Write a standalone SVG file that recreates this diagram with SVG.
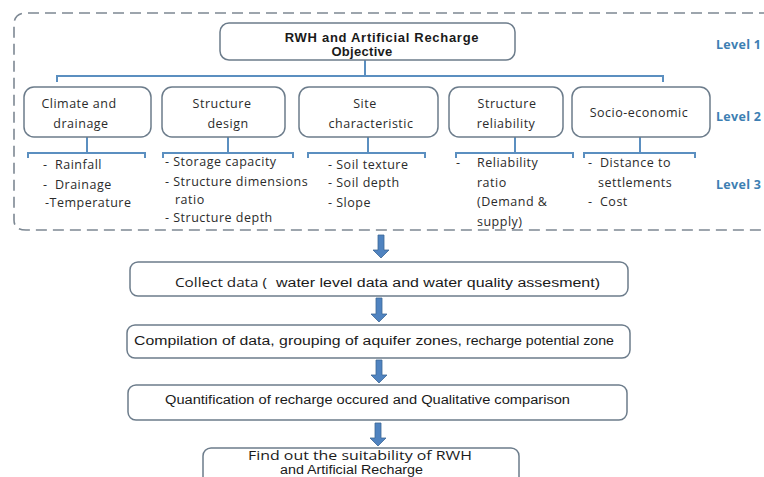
<svg xmlns="http://www.w3.org/2000/svg" width="764" height="477" viewBox="0 0 764 477">
<defs>
<style>
.bg{fill:#ffffff}
.frame{fill:none;stroke:#7d8893;stroke-width:1.6;stroke-dasharray:11 6}
.box{fill:#ffffff;stroke:#6c7c8b;stroke-width:1.5}
.conn{fill:none;stroke:#5b8fc0;stroke-width:2}
.arrow{fill:#4f83c0;stroke:#3c6796;stroke-width:0.8}
.t2{font-family:"Open Sans","DejaVu Sans",sans-serif;font-size:12.5px;letter-spacing:0.5px;fill:#2b2b2b;text-anchor:middle}
.t3{font-family:"Open Sans","DejaVu Sans",sans-serif;font-size:12.5px;letter-spacing:0.5px;fill:#2b2b2b}
.lvl{font-family:"Open Sans","DejaVu Sans",sans-serif;font-size:12.5px;font-weight:bold;letter-spacing:0.3px;fill:#3d7fb3}
.top{font-family:"Liberation Sans",Arial,sans-serif;font-size:13px;font-weight:bold;fill:#1a1a1a;text-anchor:middle}
.ft{font-family:"Liberation Sans",Arial,sans-serif;font-size:12.5px;fill:#1a1a1a}
.fo{font-family:"Open Sans","DejaVu Sans",sans-serif;font-size:13px;fill:#1a1a1a}
</style>
</defs>
<rect class="bg" x="0" y="0" width="764" height="477"/>

<path class="frame" d="M770 13 H26 Q14 13 14 25 V220 Q14 230 26 230 H770"/>

<g id="connectors">
  <path class="conn" d="M365 60 V76 M57 82 V76 H663 V82"/>
  <path class="conn" d="M87 137 V153 M28 158 V153 H145 V158"/>
  <path class="conn" d="M228 137 V153 M163 158 V153 H293 V158"/>
  <path class="conn" d="M368 137 V153 M308 158 V153 H425 V158"/>
  <path class="conn" d="M515 137 V153 M456 158 V153 H573 V158"/>
  <path class="conn" d="M640 137 V153 M584 158 V153 H695 V158"/>
  <polygon class="arrow" points="378,235 384,235 384,250 389,250 381,258 373,250 378,250"/>
  <polygon class="arrow" points="376,298 382,298 382,314 387,314 379,322 371,314 376,314"/>
  <polygon class="arrow" points="376,360 382,360 382,375 387,375 379,383 371,375 376,375"/>
  <polygon class="arrow" points="375,423 381,423 381,438 386,438 378,446 370,438 375,438"/>
</g>

<g id="objective">
  <rect class="box" x="220" y="23" width="295" height="37" rx="9"/>
  <text class="top" x="382" y="42" letter-spacing="0.7">RWH and Artificial Recharge</text>
  <text class="top" x="362" y="56" letter-spacing="0.3">Objective</text>
</g>

<g id="levels">
  <text class="lvl" x="716" y="49">Level 1</text>
  <text class="lvl" x="716" y="121">Level 2</text>
  <text class="lvl" x="716" y="189">Level 3</text>
</g>

<g id="climate">
  <rect class="box" x="24" y="87" width="127" height="50" rx="10"/>
  <text class="t2" x="79" y="108">Climate and</text>
  <text class="t2" x="81" y="128">drainage</text>
</g>
<g id="structure-design">
  <rect class="box" x="162" y="87" width="123" height="50" rx="10"/>
  <text class="t2" x="222" y="108">Structure</text>
  <text class="t2" x="228" y="128">design</text>
</g>
<g id="site">
  <rect class="box" x="299" y="87" width="139" height="50" rx="10"/>
  <text class="t2" x="365" y="108">Site</text>
  <text class="t2" x="371" y="128">characteristic</text>
</g>
<g id="structure-reliability">
  <rect class="box" x="449" y="87" width="114" height="50" rx="10"/>
  <text class="t2" x="507" y="108">Structure</text>
  <text class="t2" x="506" y="128">reliability</text>
</g>
<g id="socio">
  <rect class="box" x="572" y="87" width="138" height="50" rx="10"/>
  <text class="t2" x="639" y="117">Socio-economic</text>
</g>

<g id="climate-items">
  <text class="t3" x="43" y="169">-<tspan x="55">Rainfall</tspan></text>
  <text class="t3" x="43" y="189">-<tspan x="55">Drainage</tspan></text>
  <text class="t3" x="45" y="207">-Temperature</text>
</g>
<g id="design-items">
  <text class="t3" x="165" y="166">- Storage capacity</text>
  <text class="t3" x="165" y="186">- Structure dimensions</text>
  <text class="t3" x="175" y="204">ratio</text>
  <text class="t3" x="165" y="222">- Structure depth</text>
</g>
<g id="site-items">
  <text class="t3" x="328" y="169">- Soil texture</text>
  <text class="t3" x="328" y="187">- Soil depth</text>
  <text class="t3" x="328" y="207">- Slope</text>
</g>
<g id="reliability-items">
  <text class="t3" x="456" y="167">-<tspan x="477">Reliability</tspan></text>
  <text class="t3" x="477" y="187">ratio</text>
  <text class="t3" x="477" y="206">(Demand &amp;</text>
  <text class="t3" x="477" y="226">supply)</text>
</g>
<g id="socio-items">
  <text class="t3" x="588" y="167">-<tspan x="600">Distance to</tspan></text>
  <text class="t3" x="598" y="187">settlements</text>
  <text class="t3" x="588" y="206">-<tspan x="600">Cost</tspan></text>
</g>

<g id="collect">
  <rect class="box" x="130" y="262" width="498" height="34" rx="8"/>
  <text class="fo" x="175" y="287" font-size="13.5px" textLength="92" lengthAdjust="spacingAndGlyphs">Collect data (</text>
  <text class="ft" x="276" y="287" textLength="324" lengthAdjust="spacingAndGlyphs">water level data and water quality assesment)</text>
</g>
<g id="compilation">
  <rect class="box" x="127" y="325" width="503" height="33" rx="8"/>
  <text class="ft" x="134" y="345" font-size="13px" textLength="328" lengthAdjust="spacingAndGlyphs">Compilation of data, grouping of aquifer zones,</text>
  <text class="ft" x="466" y="345" font-size="11px" textLength="148" lengthAdjust="spacingAndGlyphs">recharge potential zone</text>
</g>
<g id="quantification">
  <rect class="box" x="128" y="385" width="499" height="35" rx="8"/>
  <text class="ft" x="165" y="404" font-size="13px" textLength="405" lengthAdjust="spacingAndGlyphs">Quantification of recharge occured and Qualitative comparison</text>
</g>
<g id="suitability">
  <rect class="box" x="203" y="448" width="316" height="40" rx="8"/>
  <text class="fo" x="248" y="460" font-size="11.5px" textLength="224" lengthAdjust="spacingAndGlyphs">Find out the suitability of RWH</text>
  <text class="ft" x="280" y="474" font-size="11px" textLength="143" lengthAdjust="spacingAndGlyphs">and Artificial Recharge</text>
</g>
</svg>
